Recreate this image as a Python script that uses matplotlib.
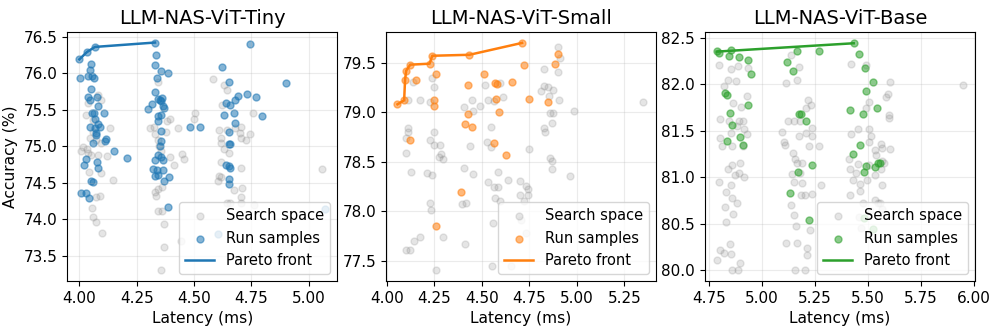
import matplotlib
matplotlib.use("Agg")
import matplotlib.pyplot as plt
import numpy as np

# ---- LLM-NAS-ViT-Tiny ----
tiny_search_lat = [4.029, 4.039, 4.080, 4.094, 4.058, 4.048, 4.033, 4.039, 4.051, 4.083,
                   4.120, 4.135, 4.043, 4.094, 4.145, 4.072, 4.091, 4.054, 4.059, 4.074,
                   4.097, 4.014, 4.007, 4.058, 4.072, 4.094,
                   4.341, 4.309, 4.326, 4.329, 4.341, 4.384, 4.396, 4.377, 4.349, 4.355,
                   4.413, 4.449, 4.457, 4.432, 4.503, 4.500, 4.329, 4.343, 4.361, 4.336,
                   4.343, 4.361, 4.368, 4.368, 4.358, 4.442, 4.396,
                   4.584, 4.633, 4.642, 4.623, 4.609, 4.616, 4.619, 4.629, 4.616, 4.609,
                   4.619, 4.604, 4.651, 4.680, 4.703, 4.701, 4.703, 4.725, 4.743, 4.758,
                   4.703, 4.674, 4.710, 4.645, 4.659, 4.704, 4.761, 4.704, 5.059, 4.645]
tiny_search_acc = [75.43, 75.59, 75.70, 75.63, 75.20, 75.12, 74.96, 74.91, 74.88, 74.88,
                   74.87, 75.25, 74.65, 74.64, 74.54, 74.31, 74.32, 74.15, 74.04, 73.96,
                   73.81, 74.99, 74.93, 75.36, 75.08, 75.04,
                   75.88, 75.25, 75.27, 75.17, 75.09, 75.34, 75.38, 75.20, 75.00, 74.93,
                   74.74, 74.89, 74.83, 75.25, 75.45, 75.37, 74.37, 74.42, 74.45, 74.32,
                   74.12, 74.11, 73.94, 73.62, 73.31, 73.70, 74.86,
                   75.92, 75.84, 75.77, 75.56, 75.22, 75.11, 75.05, 74.97, 74.79, 74.59,
                   74.58, 74.52, 74.91, 75.25, 75.26, 75.18, 75.11, 75.09, 75.17, 75.46,
                   74.70, 74.40, 74.43, 74.23, 74.22, 74.31, 74.20, 74.23, 74.69, 75.23]
tiny_run_lat = [4.000, 4.033, 4.068, 4.330, 4.004, 4.051, 4.045, 4.039, 4.054, 4.062,
                4.051, 4.039, 4.048, 4.077, 4.080, 4.062, 4.054, 4.109, 4.068, 4.080,
                4.091, 4.048, 4.068, 4.071, 4.074, 4.114, 4.112, 4.059, 4.152, 4.207,
                4.028, 4.019, 4.077, 4.081, 4.051, 4.061, 4.007, 4.028, 4.043,
                4.333, 4.329, 4.358, 4.388, 4.338, 4.329, 4.300, 4.319, 4.343, 4.352,
                4.355, 4.361, 4.365, 4.367, 4.341, 4.355, 4.341, 4.358, 4.355, 4.352,
                4.341, 4.355, 4.329, 4.365, 4.323, 4.338, 4.343, 4.329, 4.365, 4.391,
                4.367, 4.387, 4.483, 4.525,
                4.743, 4.623, 4.654, 4.903, 4.638, 4.655, 4.681, 4.690, 4.733, 4.772,
                4.633, 4.675, 4.678, 4.797, 4.651, 4.654, 4.659, 4.639, 4.654, 4.655,
                4.654, 4.654, 5.070, 4.604]
tiny_run_acc = [76.19, 76.29, 76.36, 76.42, 75.94, 76.12, 76.05, 75.96, 75.96, 75.93,
                75.79, 75.68, 75.63, 75.68, 75.55, 75.46, 75.46, 75.46, 75.37, 75.30,
                75.26, 75.26, 75.25, 75.18, 75.16, 75.10, 75.07, 75.04, 74.94, 74.84,
                74.82, 74.75, 74.78, 74.71, 74.53, 74.51, 74.36, 74.36, 74.30,
                76.25, 76.11, 76.03, 76.01, 75.94, 75.74, 75.51, 75.58, 75.65, 75.63,
                75.62, 75.66, 75.55, 75.53, 75.41, 75.43, 75.34, 75.21, 75.07, 75.01,
                74.88, 74.85, 74.81, 74.81, 74.69, 74.67, 74.61, 74.59, 74.68, 74.58,
                74.52, 74.17, 75.26, 75.26,
                76.40, 76.09, 75.88, 75.87, 75.59, 75.57, 75.63, 75.69, 75.71, 75.67,
                75.43, 75.45, 75.32, 75.41, 75.19, 75.03, 75.03, 74.75, 74.73, 74.70,
                74.55, 74.49, 74.14, 73.80]
tiny_pareto_lat = [4.000, 4.033, 4.068, 4.330]
tiny_pareto_acc = [76.19, 76.29, 76.36, 76.42]

# ---- LLM-NAS-ViT-Small ----
small_search_lat = [4.140, 4.172, 4.109, 4.237, 4.249, 4.228, 4.112, 4.109, 4.102, 4.102,
                    4.126, 4.225, 4.249, 4.249, 4.281, 4.272, 4.284, 4.298, 4.214, 4.237,
                    4.228, 4.230, 4.102, 4.123, 4.144, 4.172, 4.298, 4.260, 4.407, 4.409,
                    4.404, 4.418, 4.395, 4.439, 4.451, 4.447, 4.453, 4.488, 4.516, 4.535,
                    4.565, 4.547, 4.596, 4.611, 4.526, 4.549, 4.533, 4.565, 4.586, 4.568,
                    4.596, 4.586, 4.640, 4.561, 4.553, 4.656, 4.702, 4.702, 4.723, 4.735,
                    4.744, 4.744, 4.749, 4.707, 4.735, 4.811, 4.828, 4.830, 4.851, 4.874,
                    4.853, 4.858, 4.877, 4.868, 4.828, 4.833, 4.861, 4.868, 4.868, 4.904,
                    4.902, 4.902, 4.914, 4.986, 4.965, 5.351]
small_search_acc = [79.31, 79.12, 79.12, 79.35, 79.25, 79.10, 78.84, 78.80, 78.74, 78.59,
                    78.40, 78.72, 78.67, 78.80, 78.67, 78.55, 78.58, 78.53, 78.39, 78.37,
                    78.08, 78.01, 77.61, 77.61, 77.70, 77.74, 77.74, 77.41, 79.05, 77.67,
                    78.44, 78.08, 78.07, 78.66, 78.38, 79.12, 79.01, 79.06, 79.27, 79.12,
                    79.11, 78.85, 79.30, 79.15, 78.70, 78.65, 78.30, 78.24, 78.24, 78.13,
                    78.10, 78.40, 78.32, 77.88, 77.45, 77.45, 78.31, 78.16, 78.10, 78.25,
                    78.22, 78.16, 78.63, 77.91, 77.78, 79.21, 79.44, 79.26, 79.25, 79.22,
                    79.16, 78.99, 78.99, 78.89, 78.84, 78.80, 78.54, 78.51, 78.43, 79.12,
                    79.41, 79.66, 79.55, 79.01, 78.36, 79.10]
small_run_lat = [4.056, 4.091, 4.096, 4.102, 4.123, 4.225, 4.239, 4.435, 4.712,
                 4.123, 4.154, 4.260, 4.249, 4.249, 4.425, 4.509, 4.567, 4.579, 4.575,
                 4.591, 4.661, 4.723, 4.747, 4.884, 4.902, 4.851, 4.426, 4.411, 4.447,
                 4.565, 4.628, 4.391, 4.260]
small_run_acc = [79.08, 79.12, 79.33, 79.42, 79.48, 79.49, 79.57, 79.58, 79.70,
                 78.72, 79.33, 79.39, 79.12, 79.06, 79.27, 79.39, 79.30, 79.28, 79.13,
                 79.00, 79.31, 79.48, 79.13, 79.49, 79.59, 79.10, 78.98, 78.88, 78.85,
                 78.69, 78.57, 78.19, 77.85]
small_pareto_lat = [4.056, 4.091, 4.096, 4.102, 4.123, 4.225, 4.239, 4.435, 4.712]
small_pareto_acc = [79.08, 79.12, 79.33, 79.42, 79.48, 79.49, 79.57, 79.58, 79.70]

# ---- LLM-NAS-ViT-Base ----
base_search_lat = [4.797, 4.853, 4.884, 4.934, 4.837, 4.877, 4.821, 4.926, 4.864, 4.901,
                   4.800, 4.845, 4.892, 4.908, 4.880, 4.912, 4.853, 4.928, 4.803, 4.810,
                   4.857, 4.908, 4.857, 4.895, 4.873, 4.889, 4.915, 4.797, 4.853, 4.829,
                   4.857, 4.880, 4.864, 4.829, 4.849, 4.803, 4.818, 4.853, 4.785, 4.895,
                   4.857, 4.887, 4.837, 4.826,
                   5.113, 5.164, 5.176, 5.137, 5.215, 5.230, 5.208, 5.180, 5.121, 5.152,
                   5.094, 5.105, 5.109, 5.173, 5.208, 5.236, 5.236, 5.223, 5.269, 5.145,
                   5.157, 5.164, 5.189, 5.141, 5.179, 5.148, 5.189, 5.279, 5.184, 5.200,
                   5.236, 5.137, 5.148, 5.161, 5.227, 5.113, 5.164, 5.211, 5.211, 5.156,
                   5.202,
                   5.421, 5.492, 5.602, 5.593, 5.583, 5.504, 5.492, 5.600, 5.600, 5.452,
                   5.504, 5.514, 5.421, 5.504, 5.562, 5.565, 5.531, 5.602, 5.539, 5.565,
                   5.577, 5.410, 5.452, 5.413, 5.445, 5.504, 5.531, 5.562, 5.428, 5.460,
                   5.496, 5.565, 5.460, 5.413, 5.477, 5.531, 5.547, 5.555, 5.508, 5.565,
                   5.949, 5.466, 5.457]
base_search_acc = [82.21, 82.16, 82.19, 82.17, 82.05, 82.03, 81.98, 81.87, 81.80, 81.75,
                   81.63, 81.60, 81.60, 81.60, 81.55, 81.52, 81.47, 81.46, 81.42, 81.33,
                   81.33, 81.33, 81.13, 81.15, 81.02, 81.04, 81.00, 80.95, 80.92, 80.84,
                   80.78, 80.72, 80.60, 80.52, 80.28, 80.22, 80.18, 80.17, 80.11, 80.08,
                   80.00, 80.00, 81.09, 80.68,
                   82.01, 82.05, 82.18, 82.31, 81.83, 81.78, 81.74, 81.60, 81.60, 81.60,
                   81.49, 81.38, 81.35, 81.44, 81.47, 81.53, 81.44, 81.33, 81.33, 81.26,
                   81.19, 81.15, 81.15, 81.03, 81.04, 80.95, 80.94, 80.92, 80.81, 80.81,
                   80.82, 80.70, 80.59, 80.47, 80.43, 80.29, 80.29, 80.24, 80.16, 80.00,
                   80.00,
                   82.22, 82.21, 82.02, 81.89, 81.86, 81.81, 81.74, 81.67, 81.64, 81.52,
                   81.52, 81.44, 81.46, 81.38, 81.36, 81.31, 81.29, 81.30, 81.24, 81.17,
                   81.15, 81.19, 81.14, 81.09, 81.04, 81.13, 81.02, 81.09, 80.97, 80.93,
                   80.97, 80.91, 80.85, 80.81, 80.72, 80.75, 80.72, 80.72, 80.64, 80.66,
                   81.99, 80.45, 80.57]
base_run_lat = [4.785, 5.432, 4.797, 4.853, 4.845, 4.892, 4.932, 4.946, 4.826, 4.832,
                4.848, 4.857, 4.934, 4.895, 4.832, 4.911,
                5.165, 5.269, 5.117, 5.145, 5.173, 5.184, 5.208, 5.235, 5.169, 5.133,
                5.223,
                5.456, 5.484, 5.523, 5.492, 5.540, 5.413, 5.478, 5.461, 5.428, 5.492,
                5.481, 5.531, 5.547, 5.555, 5.482, 5.523]
base_run_acc = [82.36, 82.44, 82.33, 82.37, 82.30, 82.29, 82.26, 82.11, 81.90, 81.88,
                81.69, 81.56, 81.78, 81.43, 81.39, 81.34,
                82.36, 82.36, 82.24, 82.14, 81.68, 81.68, 81.60, 81.13, 81.05, 80.83,
                80.54,
                82.32, 82.17, 82.02, 81.93, 81.74, 81.72, 81.68, 81.34, 81.25, 81.12,
                81.06, 81.11, 81.15, 81.15, 80.56, 80.44]
base_pareto_lat = [4.785, 5.432]
base_pareto_acc = [82.35, 82.44]

titles = ["LLM-NAS-ViT-Tiny", "LLM-NAS-ViT-Small", "LLM-NAS-ViT-Base"]
colors = ["tab:blue", "tab:orange", "tab:green"]

panels = [
    (tiny_search_lat, tiny_search_acc, tiny_run_lat, tiny_run_acc, tiny_pareto_lat, tiny_pareto_acc),
    (small_search_lat, small_search_acc, small_run_lat, small_run_acc, small_pareto_lat, small_pareto_acc),
    (base_search_lat, base_search_acc, base_run_lat, base_run_acc, base_pareto_lat, base_pareto_acc),
]
limits = [((3.946, 5.125), (73.158, 76.564)),
          ((3.995, 5.418), (77.295, 79.81)),
          ((4.729, 6.005), (79.882, 82.561))]
xticks = [np.arange(4.0, 5.01, 0.25), np.arange(4.0, 5.26, 0.25), np.arange(4.75, 6.01, 0.25)]
yticks = [np.arange(73.5, 76.51, 0.5), np.arange(77.5, 79.51, 0.5), np.arange(80.0, 82.51, 0.5)]

fig, axes = plt.subplots(1, 3, figsize=(9.97, 3.3), dpi=100)
fig.subplots_adjust(left=0.0672, right=0.978, bottom=0.1485, top=0.903, wspace=0.18)

for i, ax in enumerate(axes):
    s_lat, s_acc, r_lat, r_acc, p_lat, p_acc = panels[i]
    ax.scatter(s_lat, s_acc, s=25, color="gray", alpha=0.2, label="Search space")
    ax.scatter(r_lat, r_acc, s=25, color=colors[i], alpha=0.55, label="Run samples")
    ax.plot(p_lat, p_acc, color=colors[i], linewidth=1.8, label="Pareto front")

    ax.set_title(titles[i], fontsize=14)
    ax.set_xlabel("Latency (ms)", fontsize=11.2)
    ax.set_xticks(xticks[i])
    ax.set_yticks(yticks[i])
    ax.xaxis.set_major_formatter(plt.FormatStrFormatter("%.2f"))
    ax.yaxis.set_major_formatter(plt.FormatStrFormatter("%.1f"))
    ax.set_xlim(*limits[i][0])
    ax.set_ylim(*limits[i][1])
    ax.grid(True, alpha=0.25)
    ax.tick_params(labelsize=11)
    ax.legend(loc="lower right", fontsize=10.5)

axes[0].set_ylabel("Accuracy (%)", fontsize=11.2)

plt.savefig("out.png", dpi=100)
